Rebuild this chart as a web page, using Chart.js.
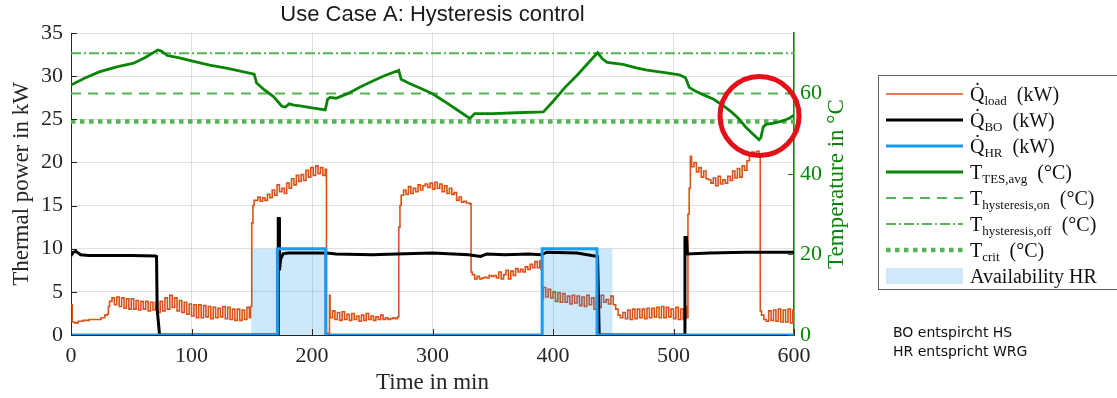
<!DOCTYPE html>
<html><head><meta charset="utf-8">
<script src="https://cdn.jsdelivr.net/npm/chart.js@4.4.1/dist/chart.umd.min.js"></script>
<style>
html,body{margin:0;padding:0;background:#fff;overflow:hidden;}
#wrap{position:relative;width:1117px;height:398px;overflow:hidden;}
canvas{position:absolute;left:0;top:0;}
#legend{position:absolute;left:878px;top:75px;width:260px;height:215px;border:1px solid #606060;box-sizing:border-box;padding-top:5px;font-family:'Liberation Serif',serif;font-size:20px;color:#111;}
.row{height:26px;line-height:26px;display:flex;align-items:center;white-space:nowrap;}
.row svg{margin-left:7px;margin-right:7px;flex:none;}
.row sub{font-size:13px;line-height:0;vertical-align:-4px;}
#note{position:absolute;left:893px;top:323px;font-family:'DejaVu Sans',sans-serif;font-size:14px;line-height:19px;color:#111;}
</style></head>
<body>
<div id="wrap">
<canvas id="c" width="1117" height="398"></canvas>
<div id="legend"></div>
<div id="note">BO entspircht HS<br>HR entspricht WRG</div>
</div>
<script>
// ---------------- DATA ----------------
const chartTitle = 'Use Case A: Hysteresis control';
const xTitle = 'Time in min';
const yTitle = 'Thermal power in kW';
const y2Title = 'Temperature in \u00B0C';
const xTicks = [0,100,200,300,400,500,600];
const yTicks = [0,5,10,15,20,25,30,35];
const y2Ticks = [0,20,40,60];

// Q_load (kW)
const loadT = [0,1,3,6,10,15,20,25,28,30,31,
 32,34,36,38,40,42,44,46,48,50,52,54,56,58,60,62,64,66,68,70,72,74,76,78,80,82,84,86,88,90,92,94,96,98,
 100,102,104,106,108,110,112,114,116,118,120,122,124,126,128,130,132,134,136,138,140,142,144,146,148,149,
 150,151,152,155,157,159,161,163,165,167,169,171,173,175,177,179,181,183,185,187,189,191,193,195,197,199,201,203,205,207,209,211,
 212,213.5,214.5,215,217,219,221,223,225,227,229,231,233,235,237,239,241,243,245,247,249,251,253,255,257,259,261,263,265,267,269,271,
 272,273,274,276,278,280,282,284,286,288,290,292,294,296,298,300,302,304,306,308,310,312,314,316,318,320,322,324,326,328,331,
 332,333,335,337,339,341,343,345,347,349,351,353,355,357,359,361,363,365,367,369,371,373,375,377,379,381,383,385,387,389,390,
 391,392,394,396,398,400,402,404,406,408,410,412,414,416,418,420,422,424,426,428,430,432,434,436,438,440,442,444,446,448,450,
 452,454,456,458,460,462,464,466,468,470,472,474,476,478,480,482,484,486,488,490,492,494,496,498,500,502,504,506,508,510,511,
 512,513,514,515,517,519,521,523,525,527,529,531,533,535,537,539,541,543,545,547,549,551,553,555,557,559,561,563,565,567,569,571,
 572,573,575,577,579,581,583,585,587,589,591,593,595,597,599,600];
const loadV = [3.5,1.5,1.4,1.6,1.7,1.8,1.8,2.0,2.3,2.4,3.3,
 3.9,4.3,3.5,4.4,3.3,4.3,3.1,4.2,3.0,4.2,3.0,4.0,2.9,3.9,3.0,3.9,2.8,3.8,2.9,3.8,2.6,3.9,2.8,4.3,3.0,4.6,3.2,4.3,2.8,4.0,2.6,3.8,2.4,3.6,
 2.2,3.5,2.0,3.5,2.0,3.4,2.1,3.3,1.9,3.2,2.0,3.1,2.1,3.3,1.9,3.2,1.8,3.0,1.7,3.0,1.7,2.9,1.8,3.2,2.0,3.3,
 13.0,15.0,15.6,16.0,15.5,15.9,15.6,16.3,15.9,16.8,16.2,17.4,16.6,17.0,16.4,17.6,17.0,18.1,17.4,18.5,17.8,18.6,17.9,19.1,18.3,19.4,18.5,19.6,18.7,19.4,18.5,19.2,
 0.2,0.2,4.6,2.0,2.8,1.8,2.6,1.7,2.7,1.8,2.4,1.7,2.5,1.8,2.2,1.6,2.3,1.7,2.5,1.8,2.2,1.7,2.1,1.8,2.3,1.8,2.0,1.8,1.9,2.0,1.9,2.1,
 12.5,15.0,16.2,16.8,16.3,17.2,16.4,17.0,16.6,17.4,16.8,17.3,17.5,17.1,17.6,16.9,17.7,17.0,17.5,16.6,17.3,16.4,17.0,16.3,16.5,15.6,16.0,15.4,15.5,15.3,15.2,
 7.3,7.0,6.5,6.8,6.5,6.6,6.7,6.6,6.9,6.8,6.9,6.6,7.3,6.5,7.0,7.5,6.5,7.4,6.9,7.7,7.3,7.6,7.3,7.9,7.6,8.2,7.8,8.5,7.8,8.6,7.6,
 4.2,5.5,4.4,5.3,4.3,5.0,3.9,4.9,3.8,4.8,3.8,4.5,3.6,4.6,3.7,4.5,3.4,4.4,3.3,4.6,3.5,4.3,3.0,4.5,3.2,4.6,3.8,4.1,3.6,4.5,3.5,
 3.0,2.3,2.0,2.6,1.9,2.9,1.8,3.0,1.9,3.0,2.0,3.0,1.9,3.1,2.0,3.1,2.1,3.2,2.0,3.3,2.0,3.2,2.1,3.0,1.9,3.2,1.8,3.0,1.8,3.3,2.0,
 14.0,17.0,20.7,19.5,20.0,18.9,19.4,18.3,19.0,18.1,18.0,17.6,18.2,17.3,18.4,17.5,18.0,17.6,18.4,17.9,19.0,18.2,19.3,18.3,19.6,19.1,20.2,20.8,21.2,21.0,21.3,21.0,
 2.8,2.3,1.8,1.6,2.8,1.7,2.9,1.6,3.0,1.5,2.9,1.5,3.0,1.4,2.9,1.3];

// Q_BO (kW)
const boT = [0,2,4,8,15,30,50,70,71,71.5,73.5,171.9,172,172.8,173,174,176,180,200,212,220,250,270,300,330,340,345,360,380,390,395,420,437,437.8,438.3,509,509.5,510.8,511.5,530,560,600];
const boV = [9.2,9.6,9.7,9.3,9.2,9.2,9.2,9.15,9.1,3.0,0,0,13.5,13.5,7.5,8.8,9.4,9.5,9.5,9.5,9.4,9.3,9.4,9.5,9.3,9.1,9.4,9.3,9.4,9.3,9.6,9.5,9.1,4.0,0,0,11.3,11.3,9.4,9.5,9.6,9.6];

// Q_HR (kW)
const hrT = [0,171.2,171.3,211.3,211.4,390.9,391,436.5,436.6,600];
const hrV = [0,0,10,10,0,0,10,10,0,0];

// T_TES,avg (°C)
const tesT = [0,12,24,38,52,62,72,75,80,90,100,115,130,152,154,160,168,175,178,181,185,190,200,211,213,215,220,230,240,250,260,272,274,280,290,300,310,320,331,335,350,370,392,400,410,420,430,437,441,445,458,470,478,490,505,510,513,518,525,533,541,548,554,560,567,571,572.5,574.5,577,583,590,596,600];
const tesV = [62.1,63.9,65.4,66.6,67.5,69.0,70.8,70.5,69.4,68.8,68.1,67.0,66.2,64.8,62.6,61.0,59.2,56.8,56.6,57.4,57.1,56.9,56.4,55.9,58.6,59.0,58.8,60.0,61.6,63.0,64.4,65.7,63.5,62.6,61.3,59.9,58.0,56.0,53.8,55.0,55.0,55.2,55.4,58.0,61.5,64.5,67.8,70.1,68.6,67.7,67.2,66.3,65.8,65.3,64.6,63.9,61.5,60.6,59.6,58.6,57.0,55.4,53.8,51.6,49.6,48.5,49.0,51.7,52.3,52.6,53.1,53.8,54.6];

// thresholds (°C)
const tHystOn = 60;
const tHystOff = 70;
const tCrit = 53;

// availability of HR: windows [start, end] in min, level in kW
const availStart = [149.5, 390.5];
const availEnd = [211.5, 449.5];
const availLevel = 10;

// highlight circle (data units: min, °C, radius in min)
const circleAt = {t: 571.4, temp: 54.4, rMin: 32.8};

const legendLabels = [
 'Q&#775;<sub>load</sub>&nbsp;&nbsp;(kW)',
 'Q&#775;<sub>BO</sub>&nbsp;&nbsp;(kW)',
 'Q&#775;<sub>HR</sub>&nbsp;&nbsp;(kW)',
 'T<sub>TES,avg</sub>&nbsp;&nbsp;(\u00B0C)',
 'T<sub>hysteresis,on</sub>&nbsp;&nbsp;(\u00B0C)',
 'T<sub>hysteresis,off</sub>&nbsp;&nbsp;(\u00B0C)',
 'T<sub>crit</sub>&nbsp;&nbsp;(\u00B0C)',
 'Availability HR'
];

// ---------------- BUILD ----------------
const pts = (T, V) => T.map((t, i) => ({x: t, y: V[i]}));
const flat = v => [{x: 0, y: v}, {x: 600, y: v}];
const availPts = [];
availStart.forEach((s, i) => {
  availPts.push({x: s, y: 0}, {x: s, y: availLevel}, {x: availEnd[i], y: availLevel}, {x: availEnd[i], y: 0});
});

const cOrange = '#D95319', cBlue = '#1A9BF0', cGreen = '#0A850A', cThr = '#55B455';
const fillCol = 'rgba(0,140,230,0.2)';

const datasets = [
 {label: 'load', data: pts(loadT, loadV), borderColor: cOrange, borderWidth: 1.6, stepped: true, yAxisID: 'y', order: 4},
 {label: 'BO', data: pts(boT, boV), borderColor: '#000', borderWidth: 3, yAxisID: 'y', order: 2},
 {label: 'HR', data: pts(hrT, hrV), borderColor: cBlue, borderWidth: 3, yAxisID: 'y', order: 1},
 {label: 'TES', data: pts(tesT, tesV), borderColor: cGreen, borderWidth: 2.8, yAxisID: 'y2', order: 0},
 {label: 'on', data: flat(tHystOn), borderColor: cThr, borderWidth: 2, borderDash: [10, 7], yAxisID: 'y2', order: 5},
 {label: 'off', data: flat(tHystOff), borderColor: cThr, borderWidth: 2, borderDash: [10, 3, 2, 3], yAxisID: 'y2', order: 5},
 {label: 'crit', data: flat(tCrit), borderColor: cThr, borderWidth: 4.5, borderDash: [4.5, 4.5], yAxisID: 'y2', order: 5},
 {label: 'avail', data: availPts, borderWidth: 0, borderColor: 'rgba(0,0,0,0)', backgroundColor: fillCol, fill: 'origin', yAxisID: 'y', order: 3}
];

// legend
const lg = document.getElementById('legend');
datasets.forEach((d, i) => {
  let sw;
  if (d.fill) {
    sw = `<svg width="77" height="20"><rect x="0" y="2" width="77" height="16" fill="#cfe8fa"/></svg>`;
  } else {
    const dash = d.borderDash ? `stroke-dasharray="${d.borderDash.join(' ')}"` : '';
    sw = `<svg width="77" height="20"><line x1="0" y1="10" x2="77" y2="10" stroke="${d.borderColor}" stroke-width="${d.borderWidth}" ${dash}/></svg>`;
  }
  const row = document.createElement('div');
  row.className = 'row';
  row.innerHTML = sw + '<span>' + legendLabels[i] + '</span>';
  lg.appendChild(row);
});

const serif = 'Liberation Serif';
const tickFont = {family: serif, size: 22};
const titleFont = {family: serif, size: 23};

const decor = {
  id: 'decor',
  afterDatasetsDraw(chart) {
    const {ctx, scales: {x, y, y2}, chartArea: a} = chart;
    ctx.save();
    // inward tick marks
    ctx.lineWidth = 1;
    ctx.strokeStyle = '#262626';
    ctx.beginPath();
    yTicks.forEach(v => { const p = Math.round(y.getPixelForValue(v)) + 0.5; ctx.moveTo(a.left, p); ctx.lineTo(a.left + 6, p); });
    xTicks.forEach(v => { const p = Math.round(x.getPixelForValue(v)) + 0.5; ctx.moveTo(p, a.bottom); ctx.lineTo(p, a.bottom - 6); });
    ctx.stroke();
    ctx.strokeStyle = cGreen;
    ctx.beginPath();
    y2Ticks.forEach(v => { const p = Math.round(y2.getPixelForValue(v)) + 0.5; ctx.moveTo(a.right, p); ctx.lineTo(a.right - 6, p); });
    ctx.stroke();
    // highlight circle
    const cx = x.getPixelForValue(circleAt.t);
    const cy = y2.getPixelForValue(circleAt.temp);
    const r = x.getPixelForValue(circleAt.t + circleAt.rMin) - cx;
    ctx.beginPath();
    ctx.arc(cx, cy, r, 0, Math.PI * 2);
    ctx.lineWidth = 5;
    ctx.strokeStyle = '#E3101A';
    ctx.stroke();
    // right axis title (reads bottom to top)
    ctx.translate(y2.left + 43, (a.top + a.bottom) / 2);
    ctx.rotate(-Math.PI / 2);
    ctx.fillStyle = cGreen;
    ctx.font = `23px '${serif}'`;
    ctx.textAlign = 'center';
    ctx.textBaseline = 'middle';
    ctx.fillText(y2Title, 0, 0);
    ctx.restore();
  }
};

new Chart(document.getElementById('c'), {
  type: 'line',
  data: {datasets},
  plugins: [decor],
  options: {
    responsive: false,
    animation: false,
    events: [],
    layout: {padding: {left: 0, right: 263, top: 0, bottom: 0}},
    elements: {point: {radius: 0}, line: {tension: 0}},
    plugins: {
      legend: {display: false},
      tooltip: {enabled: false},
      title: {display: true, text: chartTitle, fullSize: false, color: '#1a1a1a',
        font: {family: 'Liberation Sans', size: 22, weight: 'normal'}, padding: {top: 2, bottom: 4.6}}
    },
    scales: {
      x: {type: 'linear', min: 0, max: 600,
        afterBuildTicks: s => { s.ticks = xTicks.map(v => ({value: v})); },
        afterFit: s => { s.height = 63; },
        ticks: {font: tickFont, color: '#262626', maxRotation: 0, padding: 2},
        grid: {color: 'rgba(0,0,0,0.12)', tickColor: 'rgba(0,0,0,0)', tickLength: 6},
        border: {color: '#262626'},
        title: {display: true, text: xTitle, font: titleFont, color: '#262626', padding: {top: 0, bottom: 1}}},
      y: {position: 'left', min: 0, max: 35,
        afterBuildTicks: s => { s.ticks = yTicks.map(v => ({value: v})); },
        afterFit: s => { s.width = 71; },
        ticks: {font: tickFont, color: '#262626', padding: 2},
        grid: {color: 'rgba(0,0,0,0.12)', tickColor: 'rgba(0,0,0,0)', tickLength: 6},
        border: {color: '#262626'},
        title: {display: true, text: yTitle, font: titleFont, color: '#262626', padding: {top: 8, bottom: 0}}},
      y2: {position: 'right', min: 0, max: 75,
        afterBuildTicks: s => { s.ticks = y2Ticks.map(v => ({value: v})); },
        afterFit: s => { s.width = 60; },
        ticks: {font: tickFont, color: cGreen, padding: 0},
        grid: {drawOnChartArea: false, tickColor: 'rgba(0,0,0,0)', tickLength: 6},
        border: {color: cGreen, width: 1.5}}
    }
  }
});
</script>
</body></html>
